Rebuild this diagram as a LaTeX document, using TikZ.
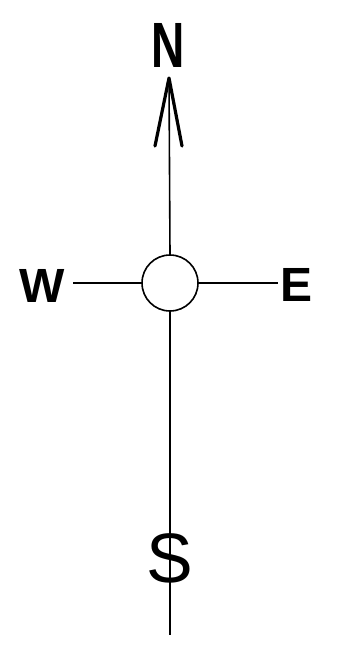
\documentclass[tikz,border=0pt]{standalone}
\usepackage{fontspec}
\setmainfont{Liberation Sans}
\begin{document}
\begin{tikzpicture}[x=1pt,y=-1pt,
  axis/.style={line width=1.6pt,black},
  letter/.style={inner sep=0pt,outer sep=0pt,text=black,font=\bfseries},
  tipstroke/.style={line width=3.2pt,line cap=round,line join=round}]
\useasboundingbox[fill=white] (0,0) rectangle (343,645);
% centre circle
\node[draw,circle,line width=1.6pt,minimum size=56pt,inner sep=0pt] (c) at (170,283) {};
% free ends
\coordinate (tip) at (169,78);
\coordinate (tl) at (155,146);
\coordinate (tr) at (182,146);
\coordinate (bot) at (170,635);
\coordinate (wend) at (73,283);
\coordinate (eend) at (278,283);
% axes
\draw[axis] (tip) -- (c.north);
\draw[axis] (c.south) -- (bot);
\draw[axis] (wend) -- (c.west);
\draw[axis] (c.east) -- (eend);
% arrowhead
\draw[tipstroke] (tl) -- (tip) -- (tr);
% letters
\node[letter,xscale=0.72] (n) at (168,45) {\fontsize{64}{64}\selectfont N};
\node[letter] (w) at (42,286) {\fontsize{48}{48}\selectfont W};
\node[letter] (e) at (297,285) {\fontsize{48}{48}\selectfont E};
\node[letter,font=\mdseries] (s) at (170,558) {\fontsize{70}{70}\selectfont S};
\end{tikzpicture}
\end{document}
